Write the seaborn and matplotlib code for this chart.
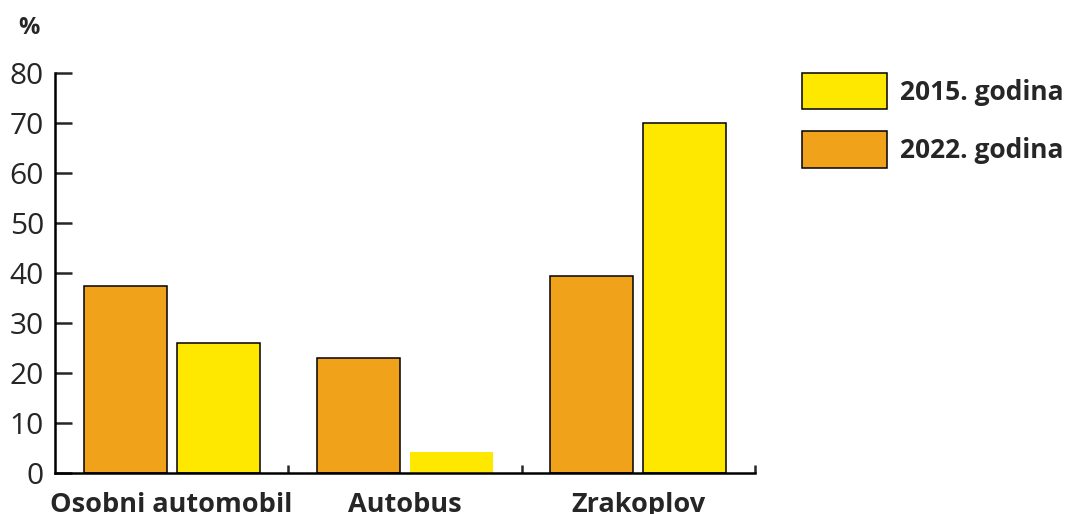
import pandas as pd
import matplotlib.pyplot as plt
import seaborn as sns
from matplotlib.patches import Patch

categories = ['Osobni automobil', 'Autobus', 'Zrakoplov']
years = ['2022. godina', '2015. godina']
values_2022 = [37.5, 23.0, 39.5]
values_2015 = [26.0, 4.3, 70.0]
y_ticks = [0, 10, 20, 30, 40, 50, 60, 70, 80]

colors = {'2022. godina': '#F0A31A', '2015. godina': '#FFE800'}

df = pd.DataFrame({
    'kategorija': categories * 2,
    'godina': [years[0]] * 3 + [years[1]] * 3,
    'udio': values_2022 + values_2015,
})

sns.set_style('white')
plt.rcParams['font.family'] = ['Open Sans', 'DejaVu Sans']

fig = plt.figure(figsize=(10.69, 5.14), dpi=100)
ax = fig.add_axes([55 / 1069, 1 - 473 / 514, 700 / 1069, 400 / 514])

sns.barplot(data=df, x='kategorija', y='udio', hue='godina', order=categories,
            hue_order=years, palette=colors, width=0.797, gap=0.108,
            edgecolor='black', linewidth=1.1, saturation=1, legend=False, ax=ax)

# the small yellow bus bar has no outline in the original
for p in ax.patches:
    if abs(p.get_height() - values_2015[1]) < 1e-9:
        p.set_edgecolor('none')

ax.set_xlim(-0.5, 2.5)
ax.set_ylim(0, 80)
ax.set_yticks(y_ticks)
ax.set_yticklabels([str(t) for t in y_ticks], fontsize=21.5)
ax.tick_params(axis='y', direction='in', length=12, width=1.8, pad=8, left=True)
ax.tick_params(axis='x', length=0, pad=14)
ax.set_xticks(range(len(categories)))
ax.set_xticklabels(categories, fontsize=19.5, fontweight='bold')
ax.set_xticks([0.5, 1.5, 2.5], minor=True)
ax.tick_params(axis='x', which='minor', direction='in', length=6, width=1.8, bottom=True)
ax.set_xlabel('')
ax.set_ylabel('')

for side in ['top', 'right']:
    ax.spines[side].set_visible(False)
for side in ['left', 'bottom']:
    ax.spines[side].set_linewidth(1.8)
    ax.spines[side].set_color('black')

fig.text(29 / 1069, 1 - 28 / 514, '%', fontsize=17, fontweight='bold', ha='center', va='center')

handles = [Patch(facecolor=colors[y], edgecolor='black', linewidth=1.1) for y in years[::-1]]
fig.legend(handles, years[::-1], loc='upper left', bbox_to_anchor=(802 / 1069, 1 - 73 / 514),
           frameon=False, borderpad=0, borderaxespad=0, handlelength=3.22, handleheight=1.74,
           labelspacing=0.83, handletextpad=0.5, prop={'size': 19, 'weight': 'bold'})

fig.savefig('out.png', dpi=100)
